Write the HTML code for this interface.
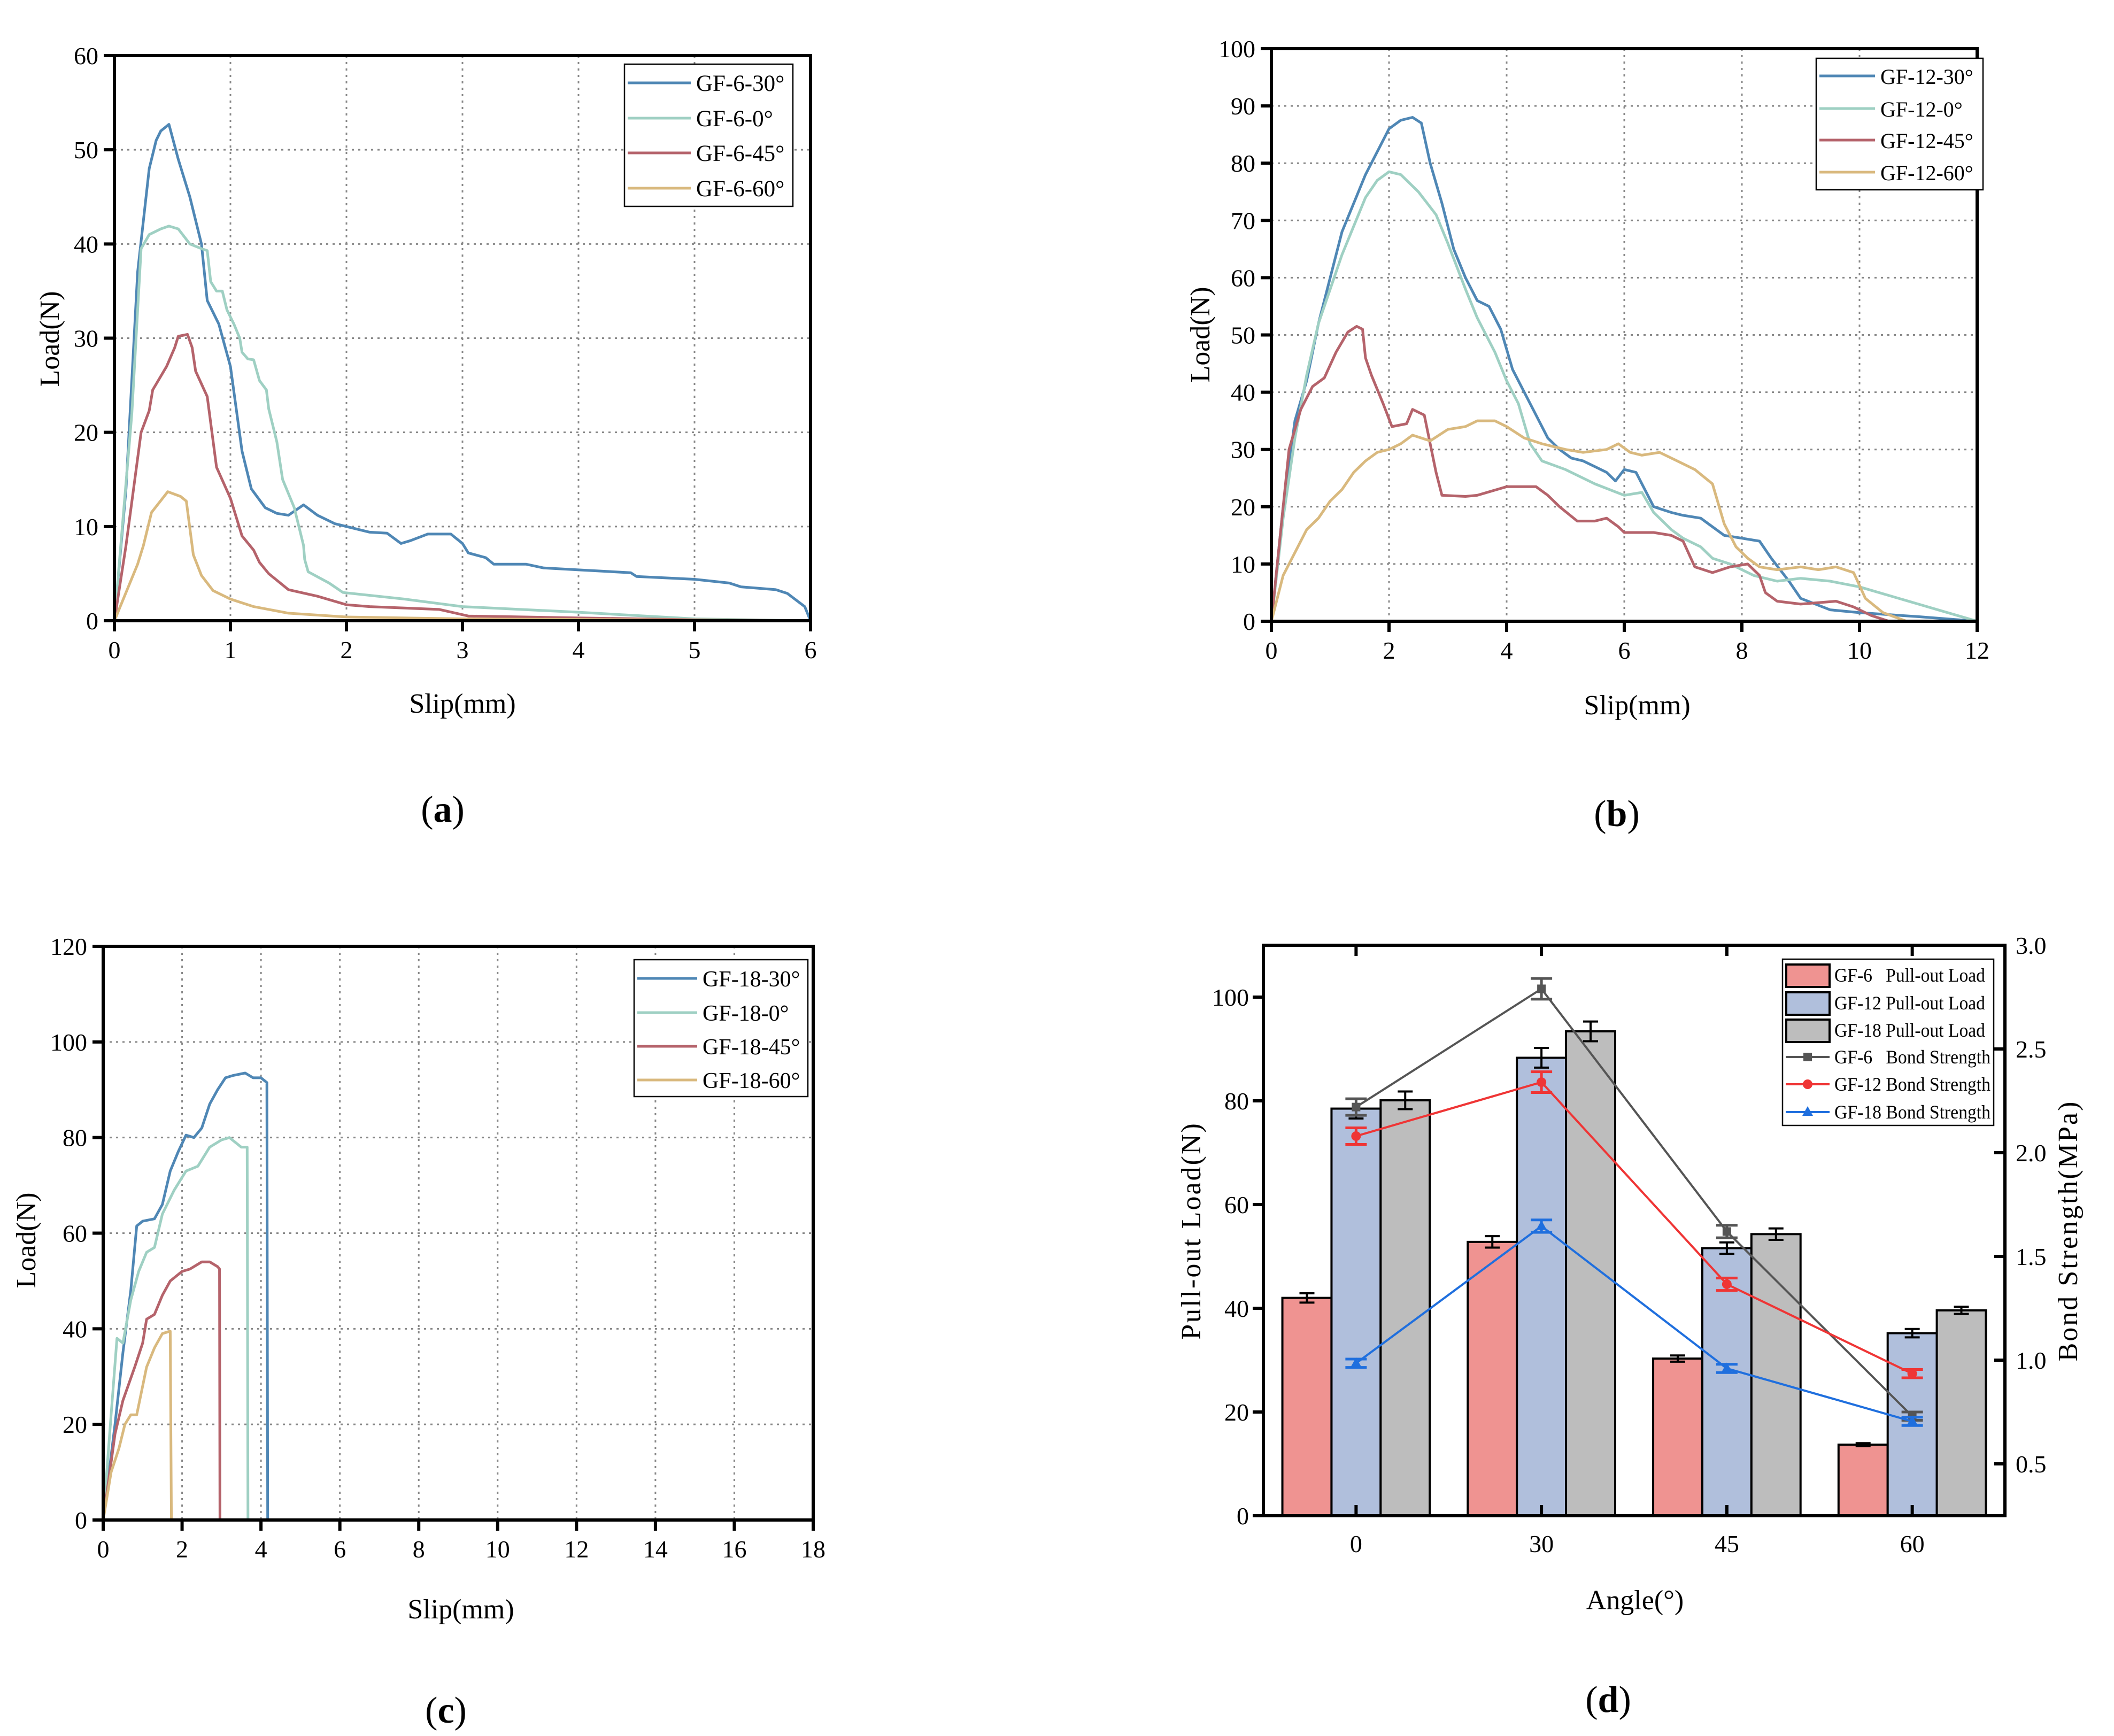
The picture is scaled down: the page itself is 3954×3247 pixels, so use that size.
<!DOCTYPE html>
<html><head><meta charset="utf-8"><style>
html,body{margin:0;padding:0;background:#fff;}
svg{display:block;font-family:"Liberation Serif",serif;}
.pre{white-space:pre;}
</style></head><body>
<svg id="fig" xmlns="http://www.w3.org/2000/svg" width="3954" height="3247" viewBox="0 0 3954 3247">
<rect width="3954" height="3247" fill="#fff"/>
</svg>
<script>
// ---- Panel (a) data: slip (mm) / load (N)
const a30x=[0,0.1,0.2,0.3,0.36,0.4,0.47,0.55,0.65,0.75,0.8,0.9,1.0,1.1,1.18,1.3,1.4,1.5,1.63,1.75,1.9,2.0,2.2,2.35,2.47,2.55,2.7,2.9,3.0,3.05,3.2,3.27,3.55,3.7,4.0,4.45,4.5,5.0,5.3,5.4,5.7,5.8,5.95,6];
const a30y=[0,14,37,48,51,52,52.7,49,45,40,34,31.5,27,18,14,12,11.4,11.2,12.3,11.2,10.3,10,9.4,9.3,8.2,8.5,9.2,9.2,8.2,7.2,6.7,6,6,5.6,5.4,5.1,4.7,4.4,4,3.6,3.3,2.9,1.5,0];
const a0x=[0,0.15,0.23,0.3,0.4,0.47,0.55,0.65,0.75,0.8,0.83,0.88,0.93,0.97,1.03,1.08,1.1,1.15,1.2,1.25,1.31,1.33,1.4,1.45,1.55,1.63,1.64,1.67,1.85,1.97,2.5,3.0,4,5,6];
const a0y=[0,22,39.5,41,41.6,41.9,41.6,40,39.5,39.3,36,35,35,33,31.5,30,28.5,27.8,27.7,25.5,24.5,22.5,19,15,12,8,6.5,5.2,4,3,2.3,1.5,0.9,0.2,0];
const a45x=[0,0.1,0.23,0.3,0.33,0.45,0.52,0.55,0.63,0.67,0.7,0.8,0.88,1.0,1.1,1.2,1.25,1.33,1.5,1.75,2.0,2.2,2.8,3.05,4,5,6];
const a45y=[0,8,20,22.3,24.5,27,29,30.2,30.4,29,26.5,23.8,16.3,13,9,7.5,6.2,5,3.3,2.6,1.7,1.5,1.2,0.5,0.3,0.1,0];
const a60x=[0,0.1,0.2,0.25,0.32,0.46,0.57,0.62,0.68,0.75,0.85,1.0,1.2,1.5,2,3,6];
const a60y=[0,3,6,8,11.5,13.7,13.2,12.7,7,4.8,3.2,2.3,1.5,0.8,0.4,0.2,0];
const aXTicks=[0,1,2,3,4,5,6];
const aYTicks=[0,10,20,30,40,50,60];
// ---- Panel (b)
const b30x=[0,0.2,0.4,0.6,0.8,1.0,1.2,1.4,1.6,1.8,2.0,2.2,2.4,2.55,2.7,2.9,3.1,3.3,3.5,3.7,3.9,4.1,4.3,4.5,4.7,4.9,5.1,5.3,5.5,5.7,5.85,6,6.2,6.3,6.5,6.8,7,7.3,7.5,7.7,8,8.3,8.5,8.8,9,9.5,10,11,12];
const b30y=[0,20,35,42,52,60,68,73,78,82,86,87.5,88,87,80,73,65,60,56,55,51,44,40,36,32,30,28.5,28,27,26,24.5,26.5,26,24,20,19,18.5,18,16.5,15,14.5,14,11,7,4,2,1.5,0.8,0];
const b0x=[0,0.2,0.4,0.6,0.8,1.0,1.2,1.4,1.6,1.8,2.0,2.2,2.5,2.8,3.0,3.3,3.5,3.8,4.0,4.2,4.4,4.6,5,5.5,6,6.3,6.5,6.8,7,7.3,7.5,7.8,8.2,8.6,9,9.5,10,11,12];
const b0y=[0,18,32,43,52,58,64,69,74,77,78.5,78,75,71,66,58,53,47,42,38,31,28,26.5,24,22,22.5,19,16,14.5,13,11,10,8,7,7.5,7,6,3,0];
const b45x=[0,0.15,0.3,0.5,0.7,0.9,1.1,1.3,1.45,1.55,1.6,1.7,1.9,2.05,2.3,2.4,2.6,2.7,2.8,2.9,3.3,3.5,4,4.5,4.7,4.9,5.2,5.5,5.7,5.9,6,6.5,6.8,7,7.2,7.5,7.8,8.1,8.3,8.4,8.6,9,9.6,9.9,10.2,10.5];
const b45y=[0,15,30,37,41,42.5,47,50.5,51.5,51,46,43,38,34,34.5,37,36,31,26,22,21.8,22,23.5,23.5,22,20,17.5,17.5,18,16.5,15.5,15.5,15,14,9.5,8.5,9.5,10,8,5,3.5,3,3.5,2.5,1,0];
const b60x=[0,0.2,0.4,0.6,0.8,1,1.2,1.4,1.6,1.8,2,2.2,2.4,2.7,3,3.3,3.5,3.8,4,4.3,4.6,5,5.3,5.7,5.9,6.1,6.3,6.6,6.9,7.2,7.5,7.7,7.9,8.1,8.3,8.6,9,9.3,9.6,9.9,10.1,10.4,10.8];
const b60y=[0,8,12,16,18,21,23,26,28,29.5,30,31,32.5,31.5,33.5,34,35,35,34,32,31,30,29.5,30,31,29.5,29,29.5,28,26.5,24,17,13,11,9.5,9,9.5,9,9.5,8.5,4,1.5,0];
const bXTicks=[0,2,4,6,8,10,12];
const bYTicks=[0,10,20,30,40,50,60,70,80,90,100];
// ---- Panel (c)
const c30x=[0,0.3,0.5,0.7,0.85,1.0,1.3,1.5,1.7,1.9,2.1,2.3,2.5,2.7,2.9,3.1,3.3,3.6,3.8,4.0,4.15,4.17];
const c30y=[0,20,35,48,61.5,62.5,63,66,73,77,80.5,80,82,87,90,92.5,93,93.5,92.5,92.5,91.5,0];
const c0x=[0,0.2,0.35,0.5,0.7,0.9,1.1,1.3,1.5,1.8,2.1,2.4,2.7,3.0,3.2,3.5,3.65,3.67];
const c0y=[0,22,38,37,46,52,56,57,64,69,73,74,78,79.5,80,78,78,0];
const c45x=[0,0.3,0.5,0.8,1.0,1.1,1.3,1.5,1.7,2.0,2.2,2.5,2.7,2.9,2.95,2.96];
const c45y=[0,18,25,32,37,42,43,47,50,52,52.5,54,54,53,52.5,0];
const c60x=[0,0.2,0.4,0.55,0.7,0.85,1.0,1.1,1.3,1.5,1.7,1.73];
const c60y=[0,10,15,20,22,22,28,32,36,39,39.5,0];
const cXTicks=[0,2,4,6,8,10,12,14,16,18];
const cYTicks=[0,20,40,60,80,100,120];
// ---- Panel (d)
const dCategories=["0","30","45","60"];
const dGF6Load=[42,52.8,30.3,13.7];
const dGF6LoadErr=[0.9,1.1,0.6,0.3];
const dGF12Load=[78.5,88.3,51.6,35.2];
const dGF12LoadErr=[1.9,1.9,1.1,0.8];
const dGF18Load=[80.1,93.4,54.3,39.6];
const dGF18LoadErr=[1.7,1.9,1.1,0.7];
const dGF6Bond=[2.22,2.79,1.62,0.73];
const dGF6BondErr=[0.04,0.05,0.03,0.02];
const dGF12Bond=[2.08,2.34,1.366,0.935];
const dGF12BondErr=[0.04,0.05,0.03,0.02];
const dGF18Bond=[0.985,1.646,0.96,0.705];
const dGF18BondErr=[0.02,0.03,0.02,0.02];
const dLeftTicks=[0,20,40,60,80,100];
const dRightTicks=[0.5,1.0,1.5,2.0,2.5,3.0];

const NS="http://www.w3.org/2000/svg";
const svg=document.getElementById('fig');
function mk(tag,attrs,parent){const e=document.createElementNS(NS,tag);for(const k in attrs)e.setAttribute(k,attrs[k]);(parent||svg).appendChild(e);return e;}
function txt(s,x,y,size,anchor,parent,extra){const t=mk('text',Object.assign({x:x,y:y,'font-size':size,'text-anchor':anchor||'middle',fill:'#000'},extra||{}),parent);t.textContent=s;return t;}

const COL={b:'#4f87b5',t:'#9fd0c3',r:'#b5636b',y:'#d9b97e'};

function linePanel(id,box,xmax,ymax,xt,yt,series,legend,labels){
  const g=mk('g',{});
  
  
  const sx=v=>box.l+(box.r-box.l)*v/xmax, sy=v=>box.b-(box.b-box.t)*v/ymax;
  xt.forEach(v=>{if(v>0&&v<xmax){const l=mk('line',{x1:sx(v),x2:sx(v),y1:box.t,y2:box.b,stroke:'#888','stroke-width':3,'stroke-dasharray':'4 8'},g);}});
  yt.forEach(v=>{if(v>0&&v<ymax){const l=mk('line',{x1:box.l,x2:box.r,y1:sy(v),y2:sy(v),stroke:'#888','stroke-width':3,'stroke-dasharray':'4 8'},g);}});
  series.forEach(s=>{
    const d=s.x.map((v,i)=>(i?'L':'M')+sx(v).toFixed(1)+' '+sy(s.y[i]).toFixed(1)).join(' ');
    const p=mk('path',{d:d,fill:'none',stroke:s.c,'stroke-width':5,'stroke-linejoin':'round'},g);
    
    
  });
  const fr=mk('rect',{x:box.l,y:box.t,width:box.r-box.l,height:box.b-box.t,fill:'none',stroke:'#000','stroke-width':6},g);
  
  
  xt.forEach(v=>{mk('line',{x1:sx(v),x2:sx(v),y1:box.b,y2:box.b+20,stroke:'#000','stroke-width':6},g);
    const t=txt(String(v),sx(v),box.b+70,46,'middle',g);});
  yt.forEach(v=>{mk('line',{x1:box.l-20,x2:box.l,y1:sy(v),y2:sy(v),stroke:'#000','stroke-width':6},g);
    const t=txt(String(v),box.l-30,sy(v)+16,46,'end',g);});
  const lg=mk('g',{},g);
  
  
  mk('rect',{x:legend.x,y:legend.y,width:legend.w,height:legend.h,fill:'#fff',stroke:'#000','stroke-width':2.5},lg);
  series.forEach((s,i)=>{const yy=legend.rows[i];
    mk('line',{x1:legend.x+6,x2:legend.x+legend.lw,y1:yy,y2:yy,stroke:s.c,'stroke-width':5},lg);
    const t=txt(s.n,legend.x+legend.lw+10,yy+15,legend.fs,'start',lg);});
  const yl=txt('Load(N)',0,0,52,'middle',g,{transform:`translate(${labels.yl[0]},${labels.yl[1]}) rotate(-90)`});
  
  const xl=txt('Slip(mm)',labels.xl[0],labels.xl[1],52,'middle',g);
  
  const pl=mk('text',{x:labels.p[0],y:labels.p[1],'font-size':70,'text-anchor':'middle'},g);
  pl.innerHTML='(<tspan font-weight="bold">'+labels.p[2]+'</tspan>)';
  
}

linePanel('a',{l:214,r:1516,t:104,b:1161},6,60,aXTicks,aYTicks,
 [{n:'GF-6-30°',x:a30x,y:a30y,c:COL.b},{n:'GF-6-0°',x:a0x,y:a0y,c:COL.t},{n:'GF-6-45°',x:a45x,y:a45y,c:COL.r},{n:'GF-6-60°',x:a60x,y:a60y,c:COL.y}],
 {x:1168,y:120,w:315,h:266,rows:[155,221,286,352],lw:124,fs:43},
 {yl:[110,634],xl:[865,1333],p:[828,1537,'a']});
linePanel('b',{l:2378,r:3698,t:91,b:1162},12,100,bXTicks,bYTicks,
 [{n:'GF-12-30°',x:b30x,y:b30y,c:COL.b},{n:'GF-12-0°',x:b0x,y:b0y,c:COL.t},{n:'GF-12-45°',x:b45x,y:b45y,c:COL.r},{n:'GF-12-60°',x:b60x,y:b60y,c:COL.y}],
 {x:3397,y:109,w:312,h:246,rows:[142,203,262,322],lw:110,fs:40},
 {yl:[2262,626],xl:[3062,1336],p:[3024,1545,'b']});
linePanel('c',{l:193,r:1521,t:1770,b:2843},18,120,cXTicks,cYTicks,
 [{n:'GF-18-30°',x:c30x,y:c30y,c:COL.b},{n:'GF-18-0°',x:c0x,y:c0y,c:COL.t},{n:'GF-18-45°',x:c45x,y:c45y,c:COL.r},{n:'GF-18-60°',x:c60x,y:c60y,c:COL.y}],
 {x:1186,y:1795,w:325,h:256,rows:[1830,1894,1957,2020],lw:118,fs:42},
 {yl:[66,2320],xl:[862,3027],p:[834,3222,'c']});

// ---- Panel (d)
(function(){
  const box={l:2363,r:3750,t:1768,b:2835};
  const g=mk('g',{});
  
  
  const cx=i=>box.l+(box.r-box.l)*(i+0.5)/4;
  const unit=(box.r-box.l)/4, bw=unit*0.265;
  const syL=v=>box.b-(box.b-box.t)*v/110;
  const syR=v=>box.b-(box.b-box.t)*(v-0.25)/2.75;
  const groups=[{n:'GF-6',v:dGF6Load,e:dGF6LoadErr,c:'#ef9391',o:-1},{n:'GF-12',v:dGF12Load,e:dGF12LoadErr,c:'#b0bfdc',o:0},{n:'GF-18',v:dGF18Load,e:dGF18LoadErr,c:'#bdbdbd',o:1}];
  groups.forEach(gr=>{
    gr.v.forEach((v,i)=>{
      const x=cx(i)+gr.o*bw-bw/2;
      const r=mk('rect',{x:x,y:syL(v),width:bw,height:box.b-syL(v),fill:gr.c,stroke:'#000','stroke-width':4},g);
      
      
      const xm=x+bw/2, y1=syL(v+gr.e[i]), y2=syL(v-gr.e[i]);
      mk('path',{d:`M${xm-14} ${y1}H${xm+14}M${xm} ${y1}V${y2}M${xm-14} ${y2}H${xm+14}`,stroke:'#000','stroke-width':4,fill:'none'},g);
    });
  });
  const lines=[{n:'GF-6',v:dGF6Bond,e:dGF6BondErr,c:'#555555',m:'sq'},{n:'GF-12',v:dGF12Bond,e:dGF12BondErr,c:'#ef3535',m:'ci'},{n:'GF-18',v:dGF18Bond,e:dGF18BondErr,c:'#1f6fde',m:'tr'}];
  function marker(m,x,y,c,par){
    if(m==='sq')mk('rect',{x:x-8,y:y-8,width:16,height:16,fill:c},par);
    else if(m==='ci')mk('circle',{cx:x,cy:y,r:9,fill:c},par);
    else mk('path',{d:`M${x} ${y-11}L${x+10} ${y+7}L${x-10} ${y+7}Z`,fill:c},par);
  }
  lines.forEach(L=>{
    const d=L.v.map((v,i)=>(i?'L':'M')+cx(i).toFixed(1)+' '+syR(v).toFixed(1)).join(' ');
    const p=mk('path',{d:d,fill:'none',stroke:L.c,'stroke-width':4},g);
    
    
    L.v.forEach((v,i)=>{
      const xm=cx(i), y1=syR(v+L.e[i]), y2=syR(v-L.e[i]);
      mk('path',{d:`M${xm-20} ${y1}H${xm+20}M${xm} ${y1}V${y2}M${xm-20} ${y2}H${xm+20}`,stroke:L.c,'stroke-width':5,fill:'none'},g);
      marker(L.m,xm,syR(v),L.c,g);
    });
  });
  const fr=mk('rect',{x:box.l,y:box.t,width:box.r-box.l,height:box.b-box.t,fill:'none',stroke:'#000','stroke-width':6},g);
  
  
  dCategories.forEach((c,i)=>{
    mk('line',{x1:cx(i),x2:cx(i),y1:box.b,y2:box.b-20,stroke:'#000','stroke-width':6},g);
    mk('line',{x1:cx(i),x2:cx(i),y1:box.t,y2:box.t+20,stroke:'#000','stroke-width':6},g);
    const t=txt(c,cx(i),2903,46,'middle',g);
  });
  dLeftTicks.forEach(v=>{mk('line',{x1:box.l-20,x2:box.l,y1:syL(v),y2:syL(v),stroke:'#000','stroke-width':6},g);
    const t=txt(String(v),2336,syL(v)+16,46,'end',g);});
  dRightTicks.forEach(v=>{mk('line',{x1:box.r,x2:box.r-20,y1:syR(v),y2:syR(v),stroke:'#000','stroke-width':6},g);
    const t=txt(v.toFixed(1),3770,syR(v)+16,46,'start',g);});
  const lg=mk('g',{},g);
  
  
  mk('rect',{x:3334,y:1794,width:395,height:311,fill:'#fff',stroke:'#000','stroke-width':2.5},lg);
  const rows=[1824,1876,1927,1977,2028,2080];
  const names=['GF-6   Pull-out Load','GF-12 Pull-out Load','GF-18 Pull-out Load','GF-6   Bond Strength','GF-12 Bond Strength','GF-18 Bond Strength'];
  groups.forEach((gr,i)=>{mk('rect',{x:3341,y:rows[i]-20,width:81,height:42,fill:gr.c,stroke:'#000','stroke-width':4},lg);});
  lines.forEach((L,i)=>{const y=rows[i+3];mk('line',{x1:3340,x2:3422,y1:y,y2:y,stroke:L.c,'stroke-width':4},lg);marker(L.m,3381,y,L.c,lg);});
  names.forEach((n,i)=>{const t=txt(n,3431,rows[i]+12,36,'start',lg,{textLength:i<3?282:292,lengthAdjust:'spacingAndGlyphs','class':'pre'});});
  const yl=txt('Pull-out Load(N)',0,0,52,'middle',g,{transform:'translate(2245,2302) rotate(-90)','letter-spacing':'3'});
  
  const yr=txt('Bond Strength(MPa)',0,0,52,'middle',g,{transform:'translate(3885,2302) rotate(-90)','letter-spacing':'3'});
  
  const xl=txt('Angle(°)',3058,3010,52,'middle',g);
  
  const pl=mk('text',{x:3008,y:3202,'font-size':70,'text-anchor':'middle'},g);
  pl.innerHTML='(<tspan font-weight="bold">d</tspan>)';
  
})();
</script>
</body></html>
